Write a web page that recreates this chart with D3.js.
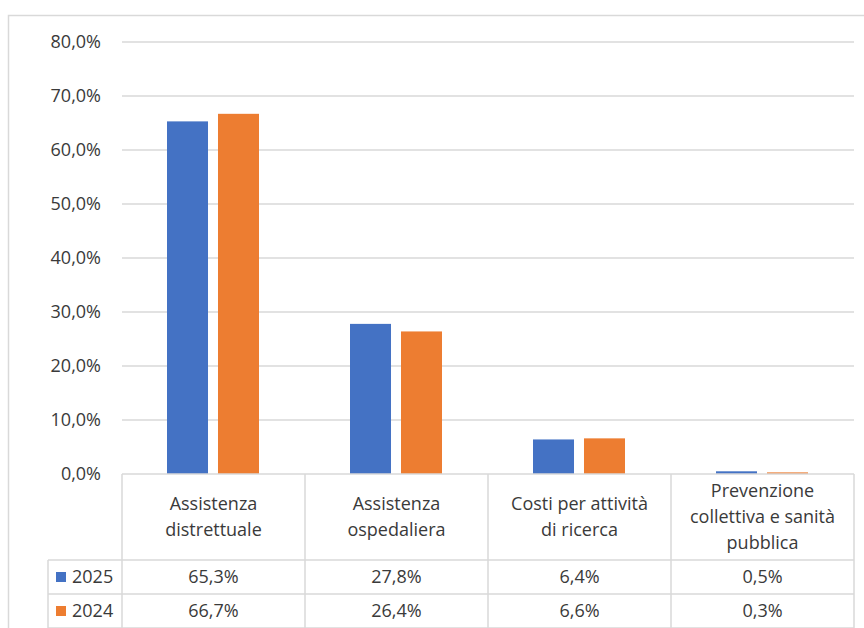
<!DOCTYPE html>
<html>
<head>
<meta charset="utf-8">
<script src="https://cdn.jsdelivr.net/npm/d3@7"></script>
<style>
  body { margin: 0; background: #fff; }
  svg { display: block; font-family: "Open Sans", sans-serif; }
</style>
</head>
<body>
<svg id="chart" width="864" height="628"></svg>
<script>
// data
var categories = [
  ["Assistenza", "distrettuale"],
  ["Assistenza", "ospedaliera"],
  ["Costi per attività", "di ricerca"],
  ["Prevenzione", "collettiva e sanità", "pubblica"]
];
var seriesNames = ["2025", "2024"];
var values2025 = [65.3, 27.8, 6.4, 0.5];
var values2024 = [66.7, 26.4, 6.6, 0.3];
var yTicks = [0, 10, 20, 30, 40, 50, 60, 70, 80];

var colors = { "2025": "#4472C4", "2024": "#ED7D31" };
var gridColor = "#d9d9d9", textColor = "#3a3a3a";

var svg = d3.select("#chart");
var plotLeft = 122, plotRight = 854, plotTop = 42, base = 474;
var rowH = 34, headerBottom = 560, legendLeft = 48;
var fs = "18px";

var fmt = function(v) { return v.toFixed(1).replace(".", ",") + "%"; };

var catKeys = categories.map(function(d, i) { return "c" + i; });
var x0 = d3.scaleBand().domain(catKeys).range([plotLeft, plotRight]);
var x1 = d3.scaleBand().domain(seriesNames).range([45, 137]).paddingInner(0.196);
var y = d3.scaleLinear().domain([0, 80]).range([base, plotTop]);

// outer frame
svg.append("rect")
  .attr("x", 8.5).attr("y", 15.5).attr("width", 880).attr("height", 640)
  .attr("fill", "none").attr("stroke", gridColor).attr("stroke-width", 1.5);

// gridlines
svg.append("g").selectAll("line").data(yTicks.filter(function(d) { return d > 0; }))
  .enter().append("line")
  .attr("x1", plotLeft).attr("x2", plotRight)
  .attr("y1", function(d) { return y(d); }).attr("y2", function(d) { return y(d); })
  .attr("stroke", gridColor).attr("stroke-width", 1.5);

// y labels
svg.append("g").selectAll("text").data(yTicks)
  .enter().append("text")
  .attr("x", 101).attr("y", function(d) { return y(d); })
  .attr("dy", "0.35em").attr("text-anchor", "end")
  .attr("font-size", fs).attr("fill", textColor)
  .text(fmt);

// bars
var rows = seriesNames.map(function(s, i) {
  return { name: s, values: i == 0 ? values2025 : values2024 };
});
var groups = svg.append("g").selectAll("g").data(catKeys)
  .enter().append("g")
  .attr("transform", function(d) { return "translate(" + x0(d) + ",0)"; });
groups.selectAll("rect")
  .data(function(d, i) { return rows.map(function(r) { return { name: r.name, v: r.values[i] }; }); })
  .enter().append("rect")
  .attr("x", function(d) { return x1(d.name); })
  .attr("width", x1.bandwidth())
  .attr("y", function(d) { return y(d.v); })
  .attr("height", function(d) { return base - y(d.v); })
  .attr("fill", function(d) { return colors[d.name]; });

// data table
var t = svg.append("g").attr("stroke", gridColor).attr("stroke-width", 1.5);
t.append("line").attr("x1", plotLeft).attr("x2", plotRight).attr("y1", base).attr("y2", base);
[0, 1, 2].forEach(function(i) {
  var yy = headerBottom + i * rowH;
  t.append("line").attr("x1", legendLeft).attr("x2", plotRight).attr("y1", yy).attr("y2", yy);
});
t.append("line").attr("x1", legendLeft).attr("x2", legendLeft).attr("y1", headerBottom).attr("y2", 640);
catKeys.concat(["end"]).forEach(function(k) {
  var xx = k == "end" ? plotRight : x0(k);
  t.append("line").attr("x1", xx).attr("x2", xx).attr("y1", base).attr("y2", 640);
});

// header labels
var lineH = 26;
svg.append("g").selectAll("text").data(categories)
  .enter().append("text")
  .attr("text-anchor", "middle").attr("font-size", fs).attr("fill", textColor)
  .attr("x", function(d, i) { return x0(catKeys[i]) + x0.bandwidth() / 2; })
  .attr("y", function(d) { return (base + headerBottom) / 2 - (d.length - 1) * lineH / 2; })
  .each(function(d) {
    var el = d3.select(this);
    d.forEach(function(line, j) {
      el.append("tspan")
        .attr("x", el.attr("x"))
        .attr("dy", j == 0 ? "0.35em" : lineH)
        .text(line);
    });
  });

// value rows + legend keys
rows.forEach(function(r, i) {
  var cy = headerBottom + i * rowH + rowH / 2;
  svg.append("rect")
    .attr("x", 56).attr("y", cy - 5).attr("width", 10).attr("height", 10)
    .attr("fill", colors[r.name]);
  svg.append("text")
    .attr("x", 72).attr("y", cy).attr("dy", "0.35em")
    .attr("font-size", fs).attr("fill", textColor)
    .text(r.name);
  svg.append("g").selectAll("text").data(r.values)
    .enter().append("text")
    .attr("x", function(d, j) { return x0(catKeys[j]) + x0.bandwidth() / 2; })
    .attr("y", cy).attr("dy", "0.35em")
    .attr("text-anchor", "middle").attr("font-size", fs).attr("fill", textColor)
    .text(fmt);
});
</script>
</body>
</html>
